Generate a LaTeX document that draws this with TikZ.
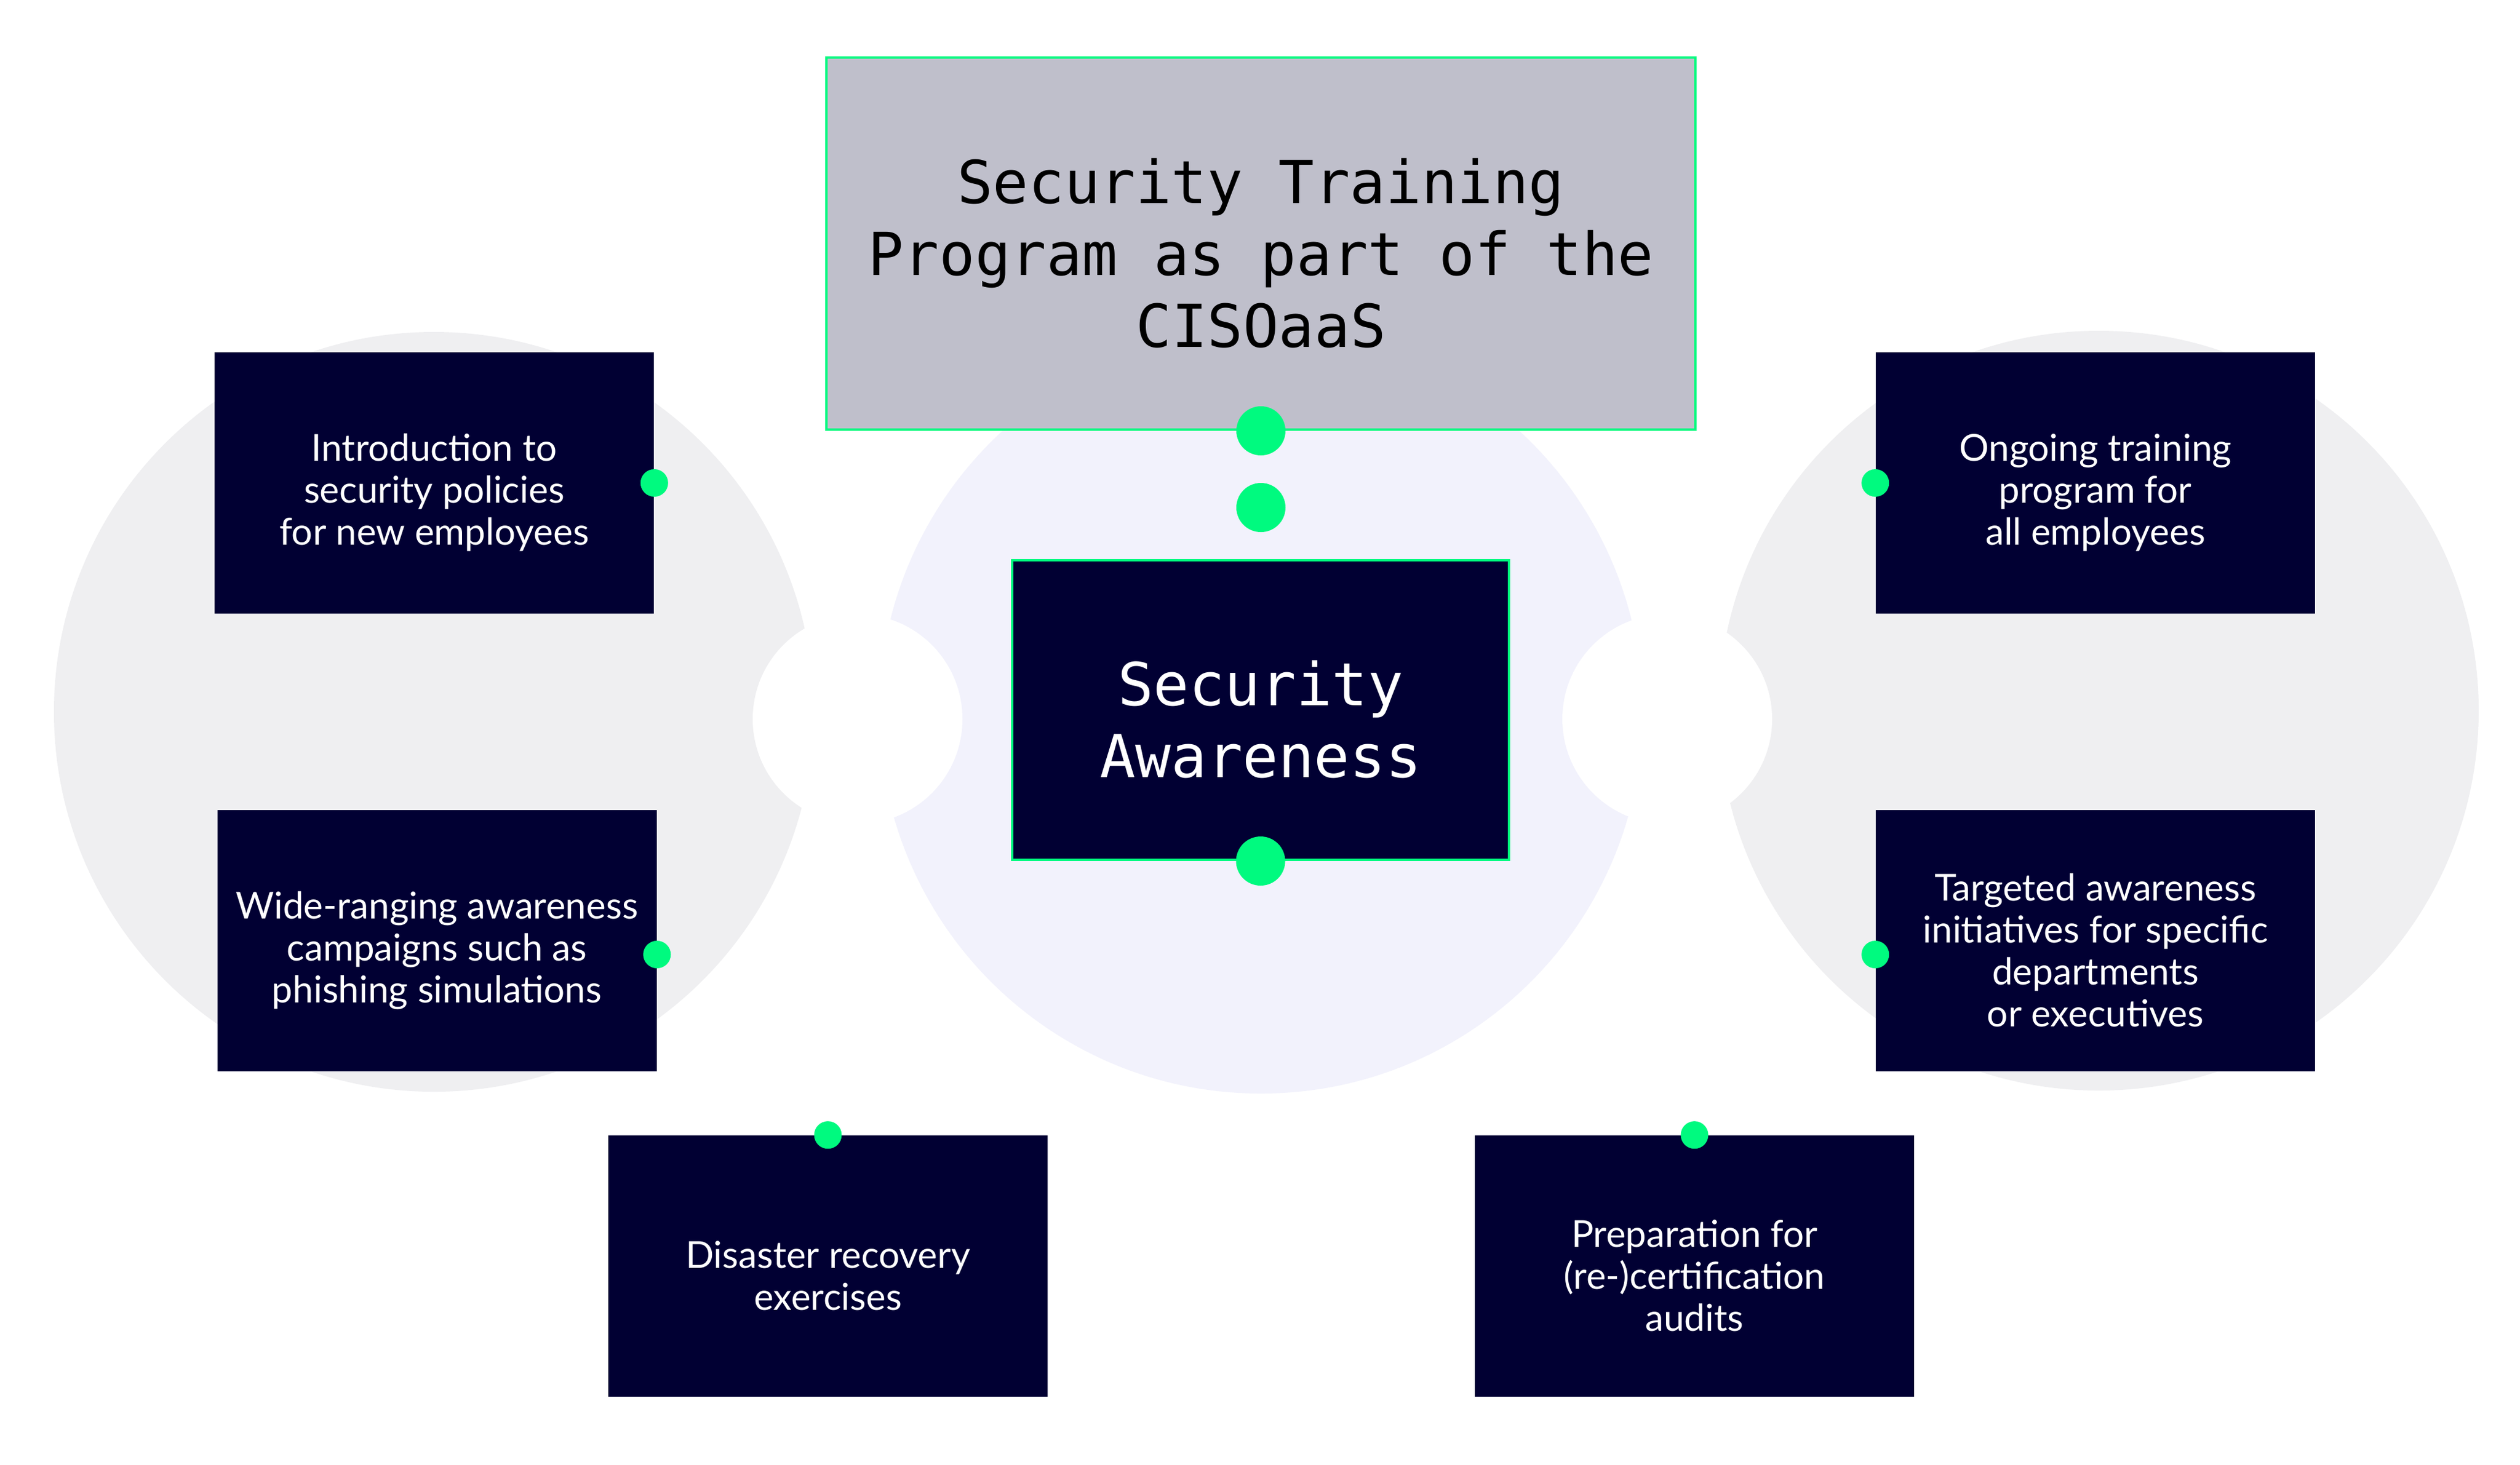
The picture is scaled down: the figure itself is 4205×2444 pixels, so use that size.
\documentclass[tikz,border=0pt]{standalone}
\usepackage{fontspec}
\setmainfont{Lato}
\newfontfamily\titlemono{DejaVu Sans Mono}
\definecolor{navy}{HTML}{010033}
\definecolor{accent}{HTML}{00FA7F}
\definecolor{topgray}{HTML}{BFBFCB}
\definecolor{ringgray}{HTML}{EFEFF1}
\definecolor{lavender}{HTML}{F2F2FC}
\begin{document}
\begin{tikzpicture}[x=0.25pt,y=-0.25pt,
  card/.style={fill=navy, draw=none, minimum width=183.25pt, minimum height=109pt,
    inner sep=0pt},
  cardtext/.style={text=white, align=center, inner sep=0pt,
    font=\fontsize{15.5}{17.5}\selectfont},
  titlebox/.style={fill=topgray, draw=accent, line width=1pt, minimum width=362.5pt,
    minimum height=155.25pt, inner sep=0pt},
  corebox/.style={fill=navy, draw=accent, line width=1pt, minimum width=207.25pt,
    minimum height=125pt, inner sep=0pt},
  monotext/.style={align=center, inner sep=0pt, font=\titlemono\fontsize{24.75}{30}\selectfont},
  dotbig/.style={circle, fill=accent, minimum size=20.5pt, inner sep=0pt},
  dotsmall/.style={circle, fill=accent, minimum size=11.5pt, inner sep=0pt}]
\useasboundingbox (0,0) rectangle (4205,2444);
\fill[white] (0,0) rectangle (4205,2444);
% background discs
\fill[ringgray] (724,1188) circle[radius=634];
\fill[ringgray] (3502,1186) circle[radius=634];
\fill[lavender] (2104,1188) circle[radius=637];
\fill[white] (1431,1200) circle[radius=175];
\fill[white] (2782,1200) circle[radius=175];
% title and core
\node[titlebox] (title) at (2104,406.5) {};
\node[monotext, text=black] (titletext) at (2104,423) {Security Training\\Program as part of the\\CISOaaS};
\node[corebox] (core) at (2103.5,1185) {};
\node[monotext, text=white] (coretext) at (2103.5,1201) {Security\\Awareness};
% cards
\node[card] (b1) at (724.5,806) {};
\node[card] (b2) at (729,1570) {};
\node[card] (b3) at (3496.5,806) {};
\node[card] (b4) at (3496.5,1570) {};
\node[card] (b5) at (1381.5,2113) {};
\node[card] (b6) at (2827.5,2113) {};
\node[cardtext] (t1) at ([yshift=-4pt]b1.center) {Introduction to\\security policies\\for new employees};
\node[cardtext] (t2) at ([yshift=-4pt]b2.center) {Wide-ranging awareness\\campaigns such as\\phishing simulations};
\node[cardtext] (t3) at ([yshift=-4pt]b3.center) {Ongoing training\\program for\\all employees};
\node[cardtext] (t4) at ([yshift=-4pt]b4.center) {Targeted awareness\\initiatives for specific\\departments\\or executives};
\node[cardtext] (t5) at ([yshift=-4pt]b5.center) {Disaster recovery\\exercises};
\node[cardtext] (t6) at ([yshift=-4pt]b6.center) {Preparation for\\(re-)certification\\audits};
% dots
\node[dotbig] (d1) at (title.south) {};
\node[dotbig] (d2) at (2104,847) {};
\node[dotbig] (d3) at (core.south) {};
\node[dotsmall] (s1) at (b1.east) {};
\node[dotsmall] (s2) at ([yshift=-5.75pt]b2.east) {};
\node[dotsmall] (s3) at (b3.west) {};
\node[dotsmall] (s4) at ([yshift=-5.75pt]b4.west) {};
\node[dotsmall] (s5) at (b5.north) {};
\node[dotsmall] (s6) at (b6.north) {};
\end{tikzpicture}
\end{document}
